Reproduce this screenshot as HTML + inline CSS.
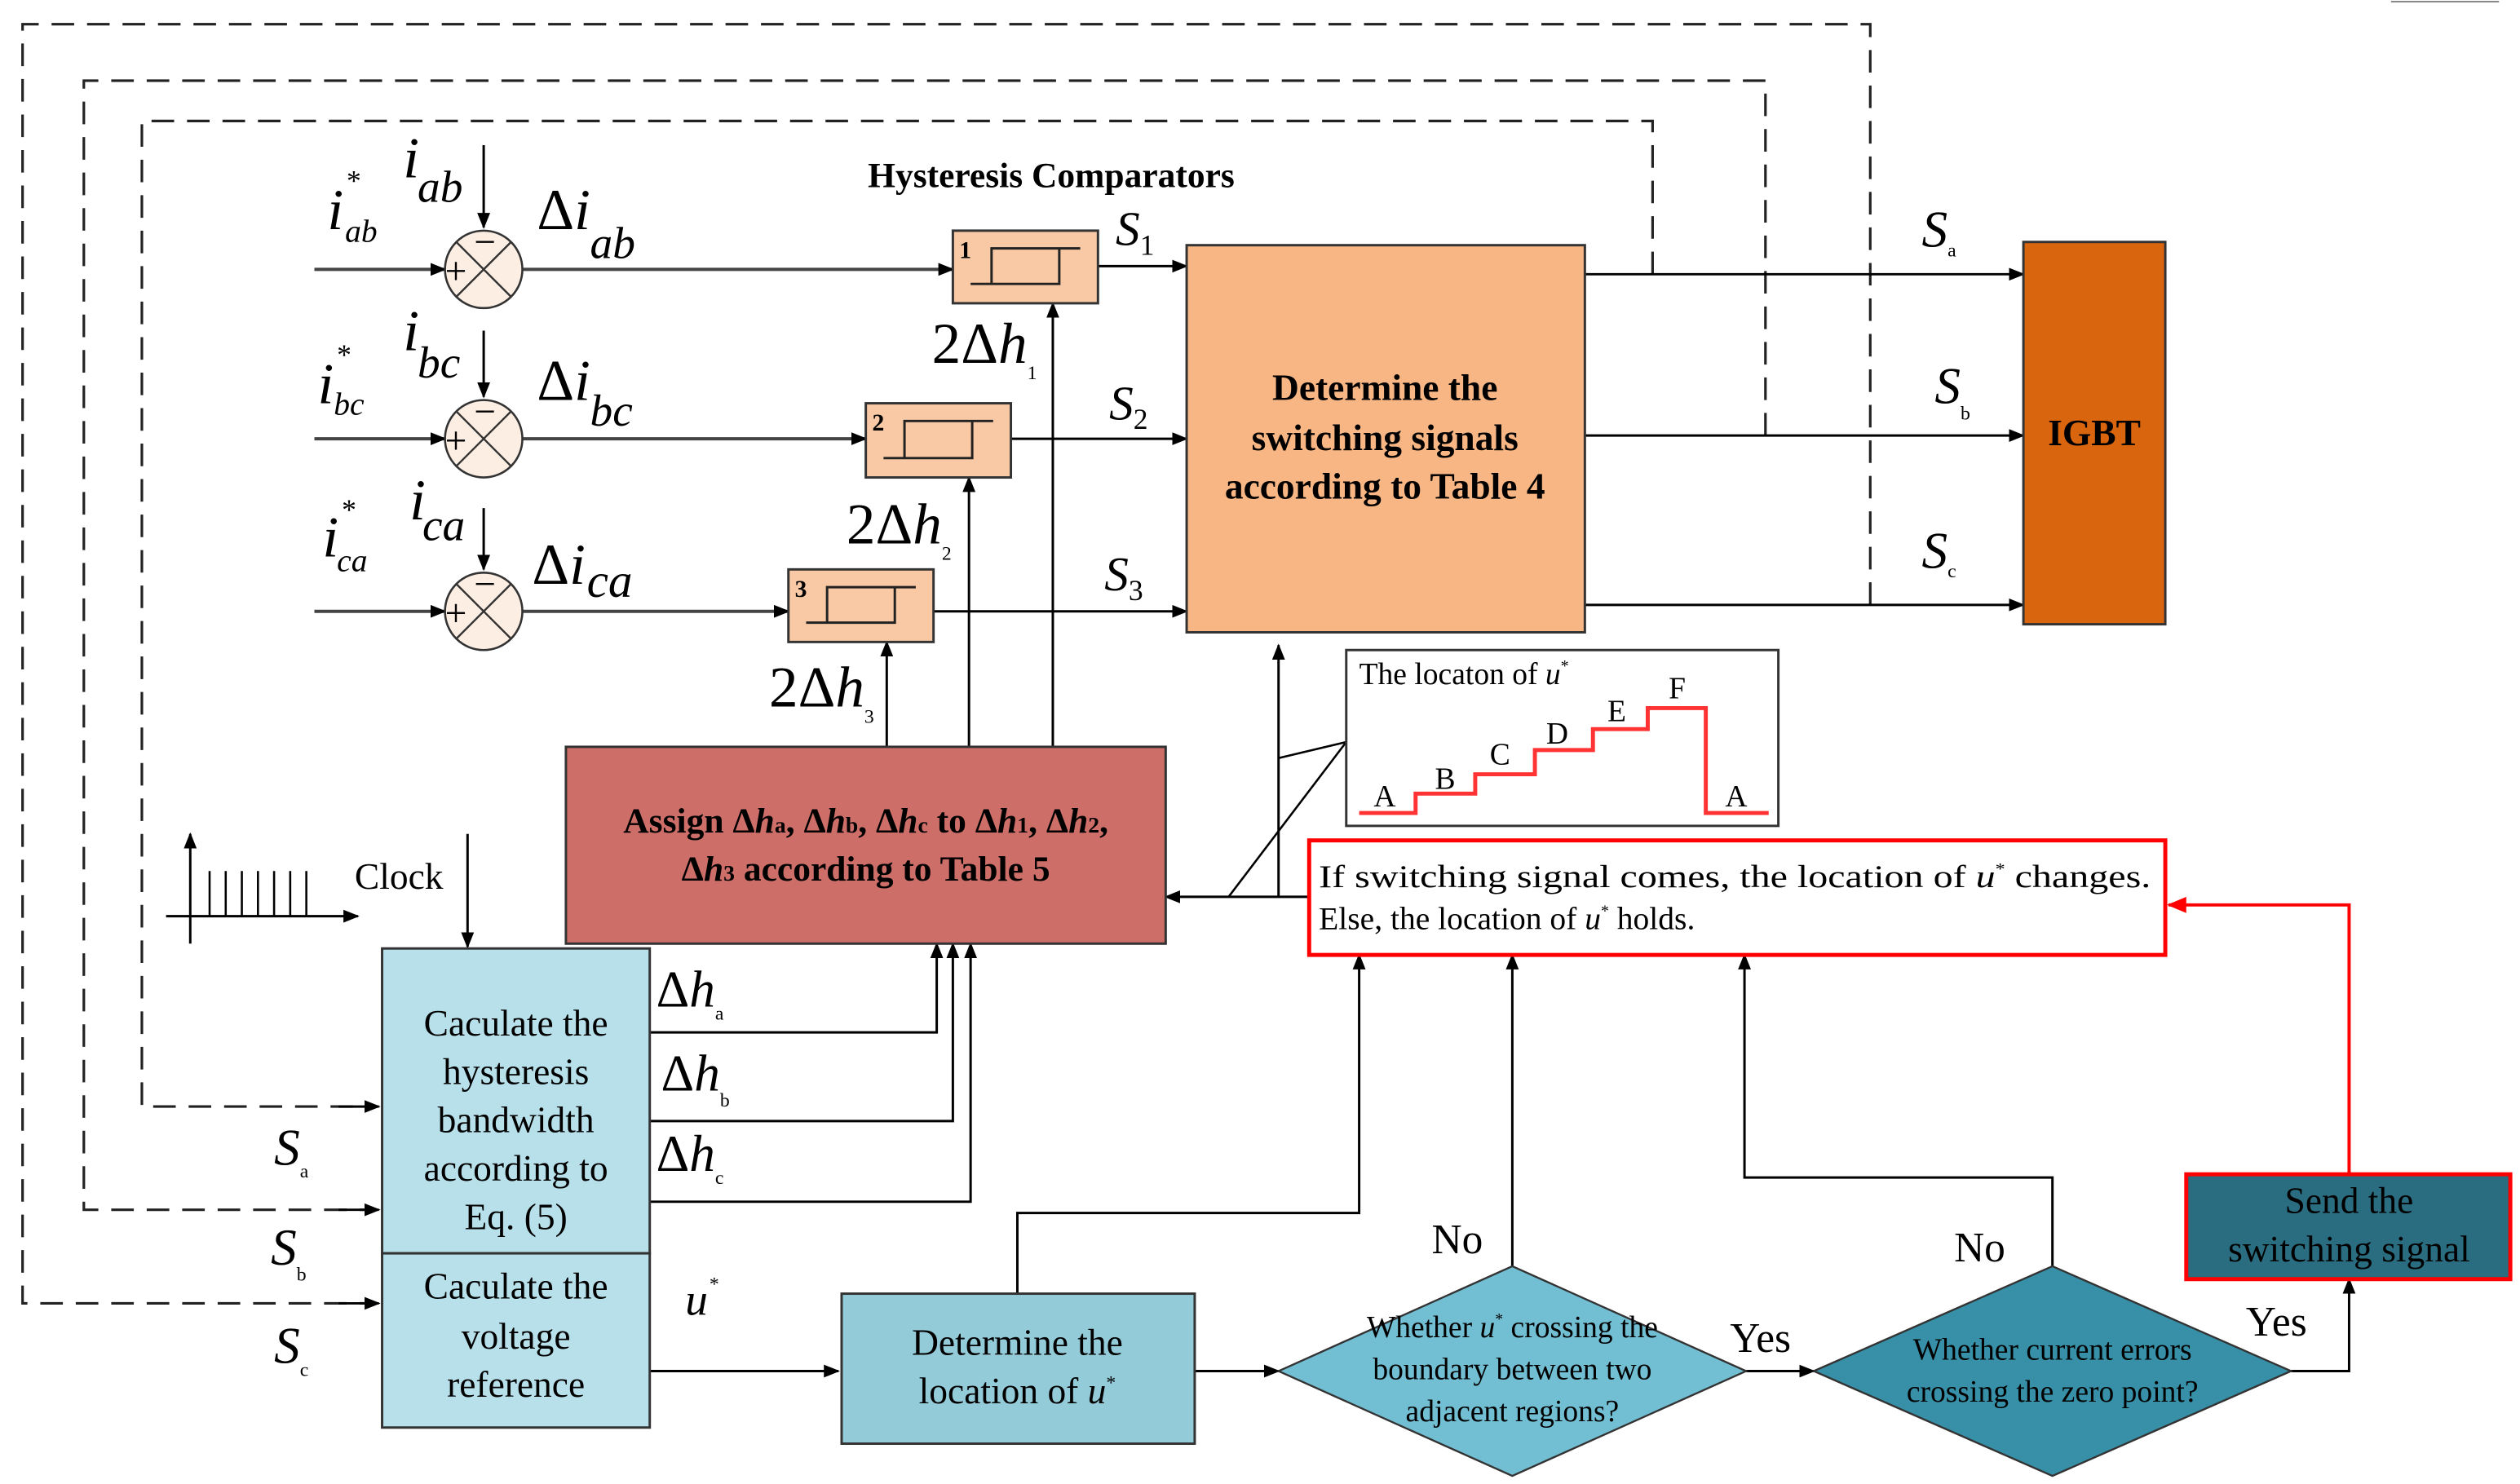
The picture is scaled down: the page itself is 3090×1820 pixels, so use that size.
<!DOCTYPE html>
<html><head><meta charset="utf-8"><style>html,body{margin:0;padding:0;background:#fff}svg{display:block}text{font-family:"Liberation Serif","DejaVu Serif",serif}</style></head><body>
<svg width="3090" height="1820" viewBox="0 0 1563 920" preserveAspectRatio="none" xmlns="http://www.w3.org/2000/svg">
<defs>
<marker id="a" markerWidth="10" markerHeight="8" refX="9" refY="4" orient="auto" markerUnits="userSpaceOnUse"><path d="M0,0 L10,4 L0,8z" fill="#000"/></marker>
<marker id="r" markerWidth="12" markerHeight="10" refX="11" refY="5" orient="auto" markerUnits="userSpaceOnUse"><path d="M0,0 L12,5 L0,10z" fill="#f00"/></marker>
</defs>
<g fill="none" stroke="#222" stroke-width="1.6" stroke-dasharray="14,8">
<path d="M1160,375 V15 H14 V808 H226"/>
<path d="M1095,270 V50 H52 V750 H226"/>
<path d="M1025,170 V75 H88 V686 H226"/>
</g>
<g stroke="#000" stroke-width="1.5" fill="none">
<path d="M210,808 H235" marker-end="url(#a)"/>
<path d="M210,750 H235" marker-end="url(#a)"/>
<path d="M210,686 H235" marker-end="url(#a)"/>
</g>
<g stroke="#444" stroke-width="2" fill="none" marker-end="url(#a)">
<path d="M195,167 H276"/><path d="M195,272 H276"/><path d="M195,379 H276"/>
<path d="M324,167 H591"/><path d="M324,272 H537"/><path d="M324,379 H489"/>
</g>
<g stroke="#000" stroke-width="1.5" fill="none" marker-end="url(#a)">
<path d="M300,90 V141"/><path d="M300,205 V246"/><path d="M300,315 V353"/>
<path d="M681,165 H736"/><path d="M627,272 H736"/><path d="M579,379 H736"/>
<path d="M983,170 H1255"/><path d="M983,270 H1255"/><path d="M983,375 H1255"/>
<path d="M550,463 V398"/><path d="M601,463 V296"/><path d="M653,463 V188"/>
<path d="M118,585 V517"/><path d="M103,568 H222"/><path d="M290,517 V587"/>
<path d="M403,640 H581 V585"/><path d="M403,695 H591 V585"/><path d="M403,745 H602 V585"/>
<path d="M403,850 H520"/><path d="M631,802 V752 H843 V592"/>
<path d="M741,850 H793"/><path d="M938,785 V592"/><path d="M1083,850 H1125"/>
<path d="M1273,785 V730 H1082 V592"/><path d="M1421,850 H1457 V793"/>
<path d="M812,556 H723"/><path d="M793,556 V400"/>
</g>
<g stroke="#000" stroke-width="1.3" fill="none">
<path d="M130,540 V568 M140,540 V568 M150,540 V568 M160,540 V568 M170,540 V568 M180,540 V568 M190,540 V568"/>
<path d="M762,556 L835,460 M793,470 L835,460"/>
</g>
<path d="M1457,728 V561 H1345" stroke="#f00" stroke-width="2" fill="none" marker-end="url(#r)"/>
<g stroke="#333" stroke-width="1.3" fill="#fdeee3">
<circle cx="300" cy="167" r="24"/><circle cx="300" cy="272" r="24"/><circle cx="300" cy="379" r="24"/>
</g>
<g stroke="#333" stroke-width="1.2">
<path d="M283,150 L317,184 M317,150 L283,184 M283,255 L317,289 M317,255 L283,289 M283,362 L317,396 M317,362 L283,396"/>
</g>
<g font-size="24" fill="#000"><text x="276" y="176">+</text><text x="294" y="158">−</text><text x="276" y="281">+</text><text x="294" y="263">−</text><text x="276" y="388">+</text><text x="294" y="370">−</text></g>
<g stroke="#333" stroke-width="1.5" fill="#f8c9a4">
<rect x="591" y="143" width="90" height="45"/><rect x="537" y="250" width="90" height="46"/><rect x="489" y="353" width="90" height="45"/>
</g>
<g stroke="#222" stroke-width="1.5" fill="none">
<path d="M602,176 H657 V154 M615,176 V154 H670"/>
<path d="M548,284 H603 V261 M561,284 V261 H616"/>
<path d="M500,386 H555 V364 M513,386 V364 H568"/>
</g>
<g font-size="15" font-weight="bold"><text x="595" y="160">1</text><text x="541" y="267">2</text><text x="493" y="370">3</text></g>
<rect x="736" y="152" width="247" height="240" fill="#f7b683" stroke="#333" stroke-width="1.5"/>
<rect x="1255" y="150" width="88" height="237" fill="#d9650f" stroke="#333" stroke-width="1.5"/>
<rect x="351" y="463" width="372" height="122" fill="#cd6e68" stroke="#333" stroke-width="1.5"/>
<rect x="237" y="588" width="166" height="189" fill="#b7e0ea" stroke="#333" stroke-width="1.5"/>
<rect x="237" y="777" width="166" height="108" fill="#b7e0ea" stroke="#333" stroke-width="1.5"/>
<rect x="522" y="802" width="219" height="93" fill="#94cbd9" stroke="#333" stroke-width="1.5"/>
<path d="M793,850 L938,785 L1083,850 L938,915z" fill="#72bfd3" stroke="#333" stroke-width="1.2"/>
<path d="M1125,850 L1273,785 L1421,850 L1273,915z" fill="#3790a8" stroke="#333" stroke-width="1.2"/>
<rect x="1356" y="728" width="201" height="65" fill="#2a6d80" stroke="#f00" stroke-width="2.5"/>
<rect x="812" y="521" width="531" height="71" fill="#fff" stroke="#f00" stroke-width="2.5"/>
<rect x="835" y="403" width="268" height="109" fill="#fff" stroke="#333" stroke-width="1.5"/>
<path d="M843,504 H878 V492 H915 V480 H952 V465 H988 V452 H1022 V439 H1058 V504 H1097" stroke="#f33" stroke-width="2.5" fill="none"/>
<g font-size="19" fill="#000">
<text x="843" y="424">The locaton of <tspan font-style="italic">u</tspan><tspan font-size="10" dy="-8">*</tspan></text>
<text x="852" y="500">A</text><text x="890" y="489">B</text><text x="924" y="474">C</text><text x="959" y="461">D</text><text x="997" y="447">E</text><text x="1035" y="433">F</text><text x="1070" y="500">A</text>
<text x="818" y="550" font-size="20" textLength="516" lengthAdjust="spacingAndGlyphs">If switching signal comes, the location of <tspan font-style="italic">u</tspan><tspan font-size="10" dy="-8">*</tspan><tspan dy="8"> changes.</tspan></text>
<text x="818" y="576" font-size="20">Else, the location of <tspan font-style="italic">u</tspan><tspan font-size="10" dy="-8">*</tspan><tspan dy="8"> holds.</tspan></text>
</g>
<g font-size="22" font-weight="bold" text-anchor="middle" fill="#000">
<text x="652" y="116">Hysteresis Comparators</text>
<text x="859" y="248" font-size="23">Determine the</text><text x="859" y="279" font-size="23">switching signals</text><text x="859" y="309" font-size="23">according to Table 4</text>
<text x="1299" y="276" font-size="23">IGBT</text>
<text x="537" y="516">Assign Δ<tspan font-style="italic">h</tspan><tspan font-size="14">a</tspan>, Δ<tspan font-style="italic">h</tspan><tspan font-size="14">b</tspan>, Δ<tspan font-style="italic">h</tspan><tspan font-size="14">c</tspan> to Δ<tspan font-style="italic">h</tspan><tspan font-size="14">1</tspan>, Δ<tspan font-style="italic">h</tspan><tspan font-size="14">2</tspan>,</text>
<text x="537" y="546">Δ<tspan font-style="italic">h</tspan><tspan font-size="14">3</tspan> according to Table 5</text>
</g>
<g font-size="23" text-anchor="middle" fill="#000">
<text x="320" y="642">Caculate the</text><text x="320" y="672">hysteresis</text><text x="320" y="702">bandwidth</text><text x="320" y="732">according to</text><text x="320" y="762">Eq. (5)</text>
<text x="320" y="805">Caculate the</text><text x="320" y="836">voltage</text><text x="320" y="866">reference</text>
<text x="631" y="840">Determine the</text><text x="631" y="870">location of <tspan font-style="italic">u</tspan><tspan font-size="12" dy="-9">*</tspan></text>
<text x="1457" y="752">Send the</text><text x="1457" y="782">switching signal</text>
<text x="938" y="829" font-size="19">Whether <tspan font-style="italic">u</tspan><tspan font-size="10" dy="-8">*</tspan><tspan dy="8"> crossing the</tspan></text>
<text x="938" y="855" font-size="19">boundary between two</text><text x="938" y="881" font-size="19">adjacent regions?</text>
<text x="1273" y="843" font-size="19">Whether current errors</text><text x="1273" y="869" font-size="19">crossing the zero point?</text>
</g>
<g font-size="26" fill="#000">
<text x="888" y="777">No</text><text x="1212" y="782">No</text><text x="1073" y="838">Yes</text><text x="1393" y="828">Yes</text>
<text x="220" y="551" font-size="23">Clock</text>
<text x="425" y="815" font-style="italic" font-size="28">u</text><text x="440" y="800" font-size="12">*</text>
</g>
<g font-style="italic" fill="#000" font-size="36">
<text x="203" y="142">i</text><text x="215" y="118" font-size="18" font-style="normal">*</text><text x="214" y="150" font-size="20">ab</text>
<text x="250" y="110">i</text><text x="259" y="125" font-size="28">ab</text>
<text x="333" y="142" font-style="normal">Δ<tspan font-style="italic">i</tspan></text><text x="366" y="160" font-size="28">ab</text>
<text x="197" y="250">i</text><text x="209" y="226" font-size="18" font-style="normal">*</text><text x="207" y="257" font-size="20">bc</text>
<text x="250" y="217">i</text><text x="259" y="234" font-size="28">bc</text>
<text x="333" y="248" font-style="normal">Δ<tspan font-style="italic">i</tspan></text><text x="366" y="264" font-size="28">bc</text>
<text x="200" y="345">i</text><text x="212" y="322" font-size="18" font-style="normal">*</text><text x="209" y="354" font-size="20">ca</text>
<text x="254" y="322">i</text><text x="262" y="335" font-size="28">ca</text>
<text x="330" y="362" font-style="normal">Δ<tspan font-style="italic">i</tspan></text><text x="364" y="370" font-size="30">ca</text>
<text x="578" y="225" font-style="normal">2Δ<tspan font-style="italic">h</tspan><tspan font-size="12" dy="10">1</tspan></text>
<text x="525" y="337" font-style="normal">2Δ<tspan font-style="italic">h</tspan><tspan font-size="12" dy="10">2</tspan></text>
<text x="477" y="438" font-style="normal">2Δ<tspan font-style="italic">h</tspan><tspan font-size="12" dy="10">3</tspan></text>
<text x="692" y="152" font-size="30">S<tspan font-size="18" font-style="normal" dy="6">1</tspan></text>
<text x="688" y="260" font-size="30">S<tspan font-size="18" font-style="normal" dy="6">2</tspan></text>
<text x="685" y="366" font-size="30">S<tspan font-size="18" font-style="normal" dy="6">3</tspan></text>
<text x="1192" y="153" font-size="32">S<tspan font-size="12" font-style="normal" dy="6">a</tspan></text>
<text x="1200" y="250" font-size="32">S<tspan font-size="12" font-style="normal" dy="10">b</tspan></text>
<text x="1192" y="352" font-size="32">S<tspan font-size="12" font-style="normal" dy="6">c</tspan></text>
<text x="170" y="722" font-size="32">S<tspan font-size="12" font-style="normal" dy="8">a</tspan></text>
<text x="168" y="784" font-size="32">S<tspan font-size="12" font-style="normal" dy="10">b</tspan></text>
<text x="170" y="845" font-size="32">S<tspan font-size="12" font-style="normal" dy="8">c</tspan></text>
<text x="407" y="624" font-size="32" font-style="normal">Δ<tspan font-style="italic">h</tspan><tspan font-size="12" dy="8">a</tspan></text>
<text x="410" y="676" font-size="32" font-style="normal">Δ<tspan font-style="italic">h</tspan><tspan font-size="12" dy="10">b</tspan></text>
<text x="407" y="726" font-size="32" font-style="normal">Δ<tspan font-style="italic">h</tspan><tspan font-size="12" dy="8">c</tspan></text>
</g>
<path d="M1483,1 H1550" stroke="#888" stroke-width="1"/>
</svg>
</body></html>
